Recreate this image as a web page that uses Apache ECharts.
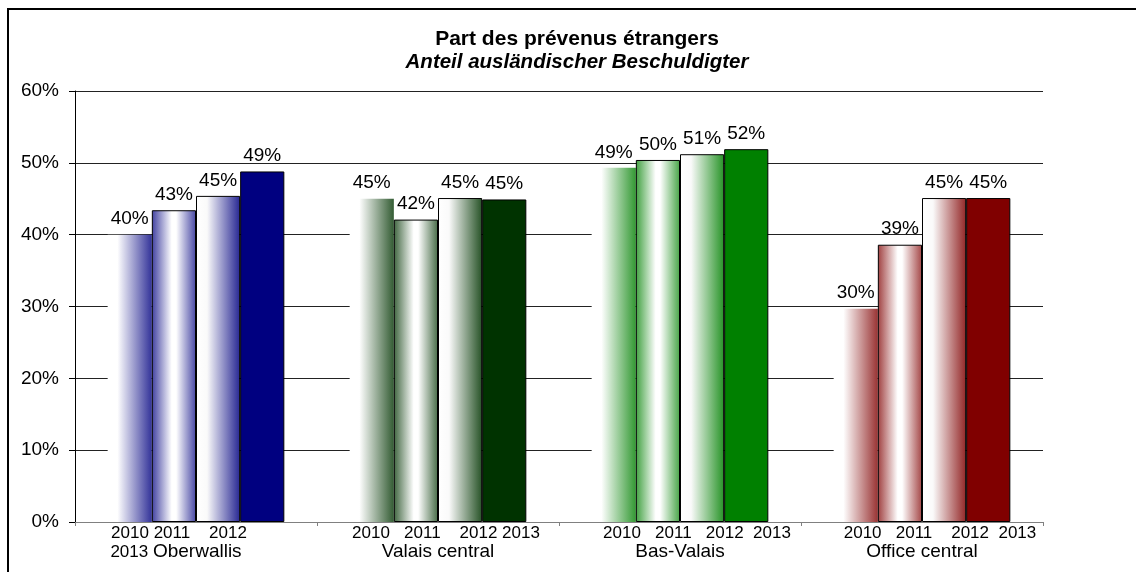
<!DOCTYPE html>
<html>
<head>
<meta charset="utf-8">
<script src="https://cdn.jsdelivr.net/npm/echarts@6/dist/echarts.min.js"></script>
<style>
  html, body { margin: 0; padding: 0; background: #fff; }
  #chart { width: 1136px; height: 572px; }
</style>
</head>
<body>
<div id="chart"></div>
<script>
// Regions (categories) and reporting years (series)
const regions = ['Oberwallis', 'Valais central', 'Bas-Valais', 'Office central'];
const years = ['2010', '2011', '2012', '2013'];

// Share of foreign suspects, in percent, per region
const share2010 = [40.0, 45.0, 49.3, 29.7];
const share2011 = [43.4, 42.1, 50.4, 38.6];
const share2012 = [45.4, 45.1, 51.2, 45.1];
const share2013 = [48.8, 44.9, 51.9, 45.1];

// Category axis text: a row of years, then the region name
const yearRow = ['2010 2011    2012', '2010   2011    2012 2013', '2010   2011   2012  2013', '2010   2011    2012  2013'];
const nameRow = ['2013 Oberwallis', 'Valais central', 'Bas-Valais', 'Office central'];

// Y axis ticks
const yTicks = [0, 10, 20, 30, 40, 50, 60];

const seriesValues = [share2010, share2011, share2012, share2013];

// Region colours and horizontal offset of each year row
const regionColors = ['#000080', '#003300', '#008000', '#800000'];
const yearRowShift = [-17, 8, 17, 18];

const FONT = '"Liberation Sans", Arial, Helvetica, sans-serif';

function mix(hex, t) {
  const n = parseInt(hex.slice(1), 16);
  const r = (n >> 16) & 255, g = (n >> 8) & 255, b = n & 255;
  const m = v => Math.round(v * t + 255 * (1 - t));
  return 'rgb(' + m(r) + ',' + m(g) + ',' + m(b) + ')';
}

function grad(stops) {
  return new echarts.graphic.LinearGradient(0, 0, 1, 0,
    stops.map(s => ({ offset: s[0], color: s[1] })));
}

// Fill style of each year's bar for a given region colour
function barStyle(yearIdx, c) {
  if (yearIdx === 0) {
    return { color: grad([[0, '#ffffff'], [0.22, '#ffffff'], [1, mix(c, 0.8)]]), borderWidth: 0 };
  }
  if (yearIdx === 1) {
    return { color: grad([[0, mix(c, 0.75)], [0.45, '#ffffff'], [0.55, '#ffffff'], [1, mix(c, 0.72)]]), borderColor: '#000', borderWidth: 1 };
  }
  if (yearIdx === 2) {
    return { color: grad([[0, '#ffffff'], [0.25, '#fafafa'], [1, mix(c, 0.85)]]), borderColor: '#000', borderWidth: 1 };
  }
  return { color: c, borderColor: '#000', borderWidth: 1 };
}

const rich = {
  c: { fontFamily: FONT, fontSize: 19, color: '#000', lineHeight: 20, align: 'center' }
};
yearRowShift.forEach((s, i) => {
  rich['y' + i] = {
    fontFamily: FONT, fontSize: 17, color: '#000', lineHeight: 17, align: 'center',
    padding: s > 0 ? [0, 0, 0, 2 * s] : [0, -2 * s, 0, 0]
  };
});
rich.n0 = { fontFamily: FONT, fontSize: 19, color: '#000', lineHeight: 20, padding: [0, 40, 0, 0] };
rich.n0y = { fontFamily: FONT, fontSize: 17, color: '#000', lineHeight: 20 };

function axisLabelText(value, idx) {
  const top = '{y' + idx + '|' + yearRow[idx] + '}';
  const name = nameRow[idx];
  const m = name.match(/^(\d{4}) (.*)$/);
  const bottom = m ? '{n0y|' + m[1] + ' }{n0|' + m[2] + '}' : '{c|' + name + '}';
  return top + '\n' + bottom;
}

const chart = echarts.init(document.getElementById('chart'), null, { renderer: 'canvas' });

const option = {
  animation: false,
  backgroundColor: '#ffffff',
  title: [
    {
      text: 'Part des prévenus étrangers',
      left: 577, top: 29, textAlign: 'center', padding: 0,
      textStyle: { fontFamily: FONT, fontSize: 21, fontWeight: 'bold', color: '#000' }
    },
    {
      text: 'Anteil ausländischer Beschuldigter',
      left: 577, top: 52, textAlign: 'center', padding: 0,
      textStyle: { fontFamily: FONT, fontSize: 20.5, fontWeight: 'bold', fontStyle: 'italic', color: '#000' }
    }
  ],
  graphic: [
    {
      type: 'rect', silent: true, z: 100,
      shape: { x: 8, y: 9, width: 1300, height: 800 },
      style: { fill: 'none', stroke: '#000', lineWidth: 2 }
    }
  ],
  grid: { left: 75, right: 93, top: 91, bottom: 50, containLabel: false },
  xAxis: {
    type: 'category',
    data: regions,
    boundaryGap: true,
    axisLine: { show: true, lineStyle: { color: '#808080', width: 1 } },
    axisTick: { show: true, length: 4, alignWithLabel: false, lineStyle: { color: '#808080' } },
    axisLabel: {
      interval: 0, margin: 3,
      formatter: axisLabelText,
      rich: rich
    },
    splitLine: { show: false }
  },
  yAxis: {
    type: 'value',
    min: yTicks[0],
    max: yTicks[yTicks.length - 1],
    interval: yTicks[1] - yTicks[0],
    axisLine: { show: true, lineStyle: { color: '#000', width: 1 } },
    axisTick: { show: true, length: 6, inside: false, lineStyle: { color: '#000' } },
    axisLabel: {
      margin: 16, fontFamily: FONT, fontSize: 19, color: '#000',
      formatter: v => v + '%'
    },
    splitLine: { show: true, lineStyle: { color: '#222', width: 1 } }
  },
  series: years.map((yr, yi) => ({
    name: yr,
    type: 'bar',
    barGap: '0%',
    barCategoryGap: '27%',
    data: seriesValues[yi].map((v, ri) => ({
      value: v,
      itemStyle: barStyle(yi, regionColors[ri])
    })),
    label: {
      show: true,
      position: 'top',
      distance: 6,
      fontFamily: FONT,
      fontSize: 19,
      color: '#000',
      formatter: p => Math.round(p.value) + '%'
    },
    emphasis: { disabled: true }
  }))
};

chart.setOption(option);
</script>
</body>
</html>
